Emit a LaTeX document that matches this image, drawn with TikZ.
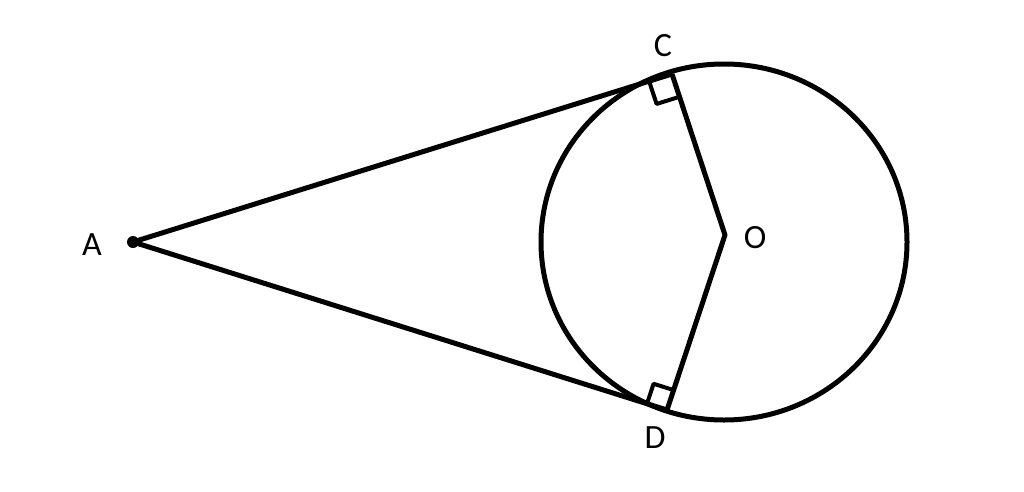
\documentclass[tikz,border=0pt]{standalone}
\usepackage{fontspec}
\setmainfont{Carlito}
\usetikzlibrary{calc}

\begin{document}
\begin{tikzpicture}[x=1pt,y=-1pt,
    line width=5pt,
    line join=round,
    lbl/.style={font=\fontsize{34}{40}\selectfont, inner sep=0pt}]
      \useasboundingbox (0,0) rectangle (1024,491);
      \coordinate (O) at (725,235);
      \coordinate (A) at (133,242);
      \coordinate (C) at (672,74);
      \coordinate (D) at (667,410);

      \draw (724,242) ellipse [x radius=183pt, y radius=178pt];

      \draw (A) -- (C);
      \draw (A) -- (D);
      \draw (C) -- (O) -- (D);
      \fill (A) circle (6pt);

      % right angles
      \coordinate (Ca) at ($(C)!24pt!(A)$);
      \coordinate (Co) at ($(C)!24pt!(O)$);
      \draw [line width=4pt] (Ca) -- ($(Ca)+(Co)-(C)$) -- (Co);
      \coordinate (Da) at ($(D)!21pt!(A)$);
      \coordinate (Do) at ($(D)!21pt!(O)$);
      \draw [line width=4pt] (Da) -- ($(Da)+(Do)-(D)$) -- (Do);

      \node [lbl] (Clbl) at (663,46) {C};
      \node [lbl] (Dlbl) at (655,438) {D};
      \node [lbl] (Olbl) at (755,238) {O};
      \node [lbl] (Albl) at (92,245) {A};
\end{tikzpicture}
\end{document}
